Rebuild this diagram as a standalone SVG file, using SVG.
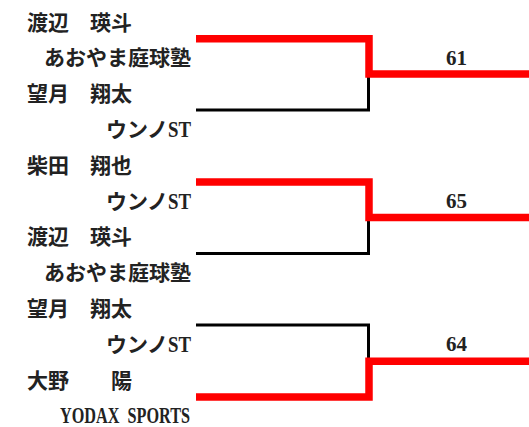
<svg xmlns="http://www.w3.org/2000/svg" width="529" height="427" viewBox="0 0 529 427">
<style>
.bg{fill:#ffffff}
.t{font-family:"Liberation Serif","Noto Sans CJK JP",serif;font-size:21px;font-weight:bold;fill:#222222}
.r{text-anchor:end}
.l{font-size:23px}
.n{font-family:"Liberation Serif",serif;font-size:22px;font-weight:bold;fill:#222222;text-anchor:middle}
.lose{fill:none;stroke:#000000;stroke-width:3;stroke-linejoin:miter}
.win{fill:none;stroke:#ff0000;stroke-width:7.5;stroke-linejoin:miter;stroke-linecap:butt}
</style>
<rect class="bg" x="0" y="0" width="529" height="427"/>
<g id="match1">
  <text class="t" x="27" y="29.5">渡辺　瑛斗</text>
  <text class="t r" x="191" y="65.3">あおやま庭球塾</text>
  <text class="t" x="27" y="101.1">望月　翔太</text>
  <text class="t r" x="191" y="137">ウンノ<tspan class="l" textLength="23" lengthAdjust="spacingAndGlyphs">ST</tspan></text>
  <text class="n" x="456.5" y="65" textLength="21" lengthAdjust="spacingAndGlyphs">61</text>
</g>
<g id="match2">
  <text class="t" x="27" y="172.7">柴田　翔也</text>
  <text class="t r" x="191" y="208.5">ウンノ<tspan class="l" textLength="23" lengthAdjust="spacingAndGlyphs">ST</tspan></text>
  <text class="t" x="27" y="244.3">渡辺　瑛斗</text>
  <text class="t r" x="191" y="280.1">あおやま庭球塾</text>
  <text class="n" x="456.5" y="208" textLength="21" lengthAdjust="spacingAndGlyphs">65</text>
</g>
<g id="match3">
  <text class="t" x="27" y="315.9">望月　翔太</text>
  <text class="t r" x="191" y="351.7">ウンノ<tspan class="l" textLength="23" lengthAdjust="spacingAndGlyphs">ST</tspan></text>
  <text class="t" x="27" y="387.5">大野　　陽</text>
  <text class="t l" x="60" y="423" textLength="130" lengthAdjust="spacingAndGlyphs">YODAX&#160;&#160;SPORTS</text>
  <text class="n" x="456.5" y="351" textLength="21" lengthAdjust="spacingAndGlyphs">64</text>
</g>
<g id="connectors">
  <path class="lose" d="M196 110 H368.5 V74"/>
  <path class="win" d="M196 38.75 H369 V74 H529"/>
  <path class="lose" d="M196 253.5 H368.5 V217.5"/>
  <path class="win" d="M196 182 H369 V217.5 H529"/>
  <path class="lose" d="M196 325 H368.5 V361.3"/>
  <path class="win" d="M196 397 H369 V361.3 H529"/>
</g>
</svg>
